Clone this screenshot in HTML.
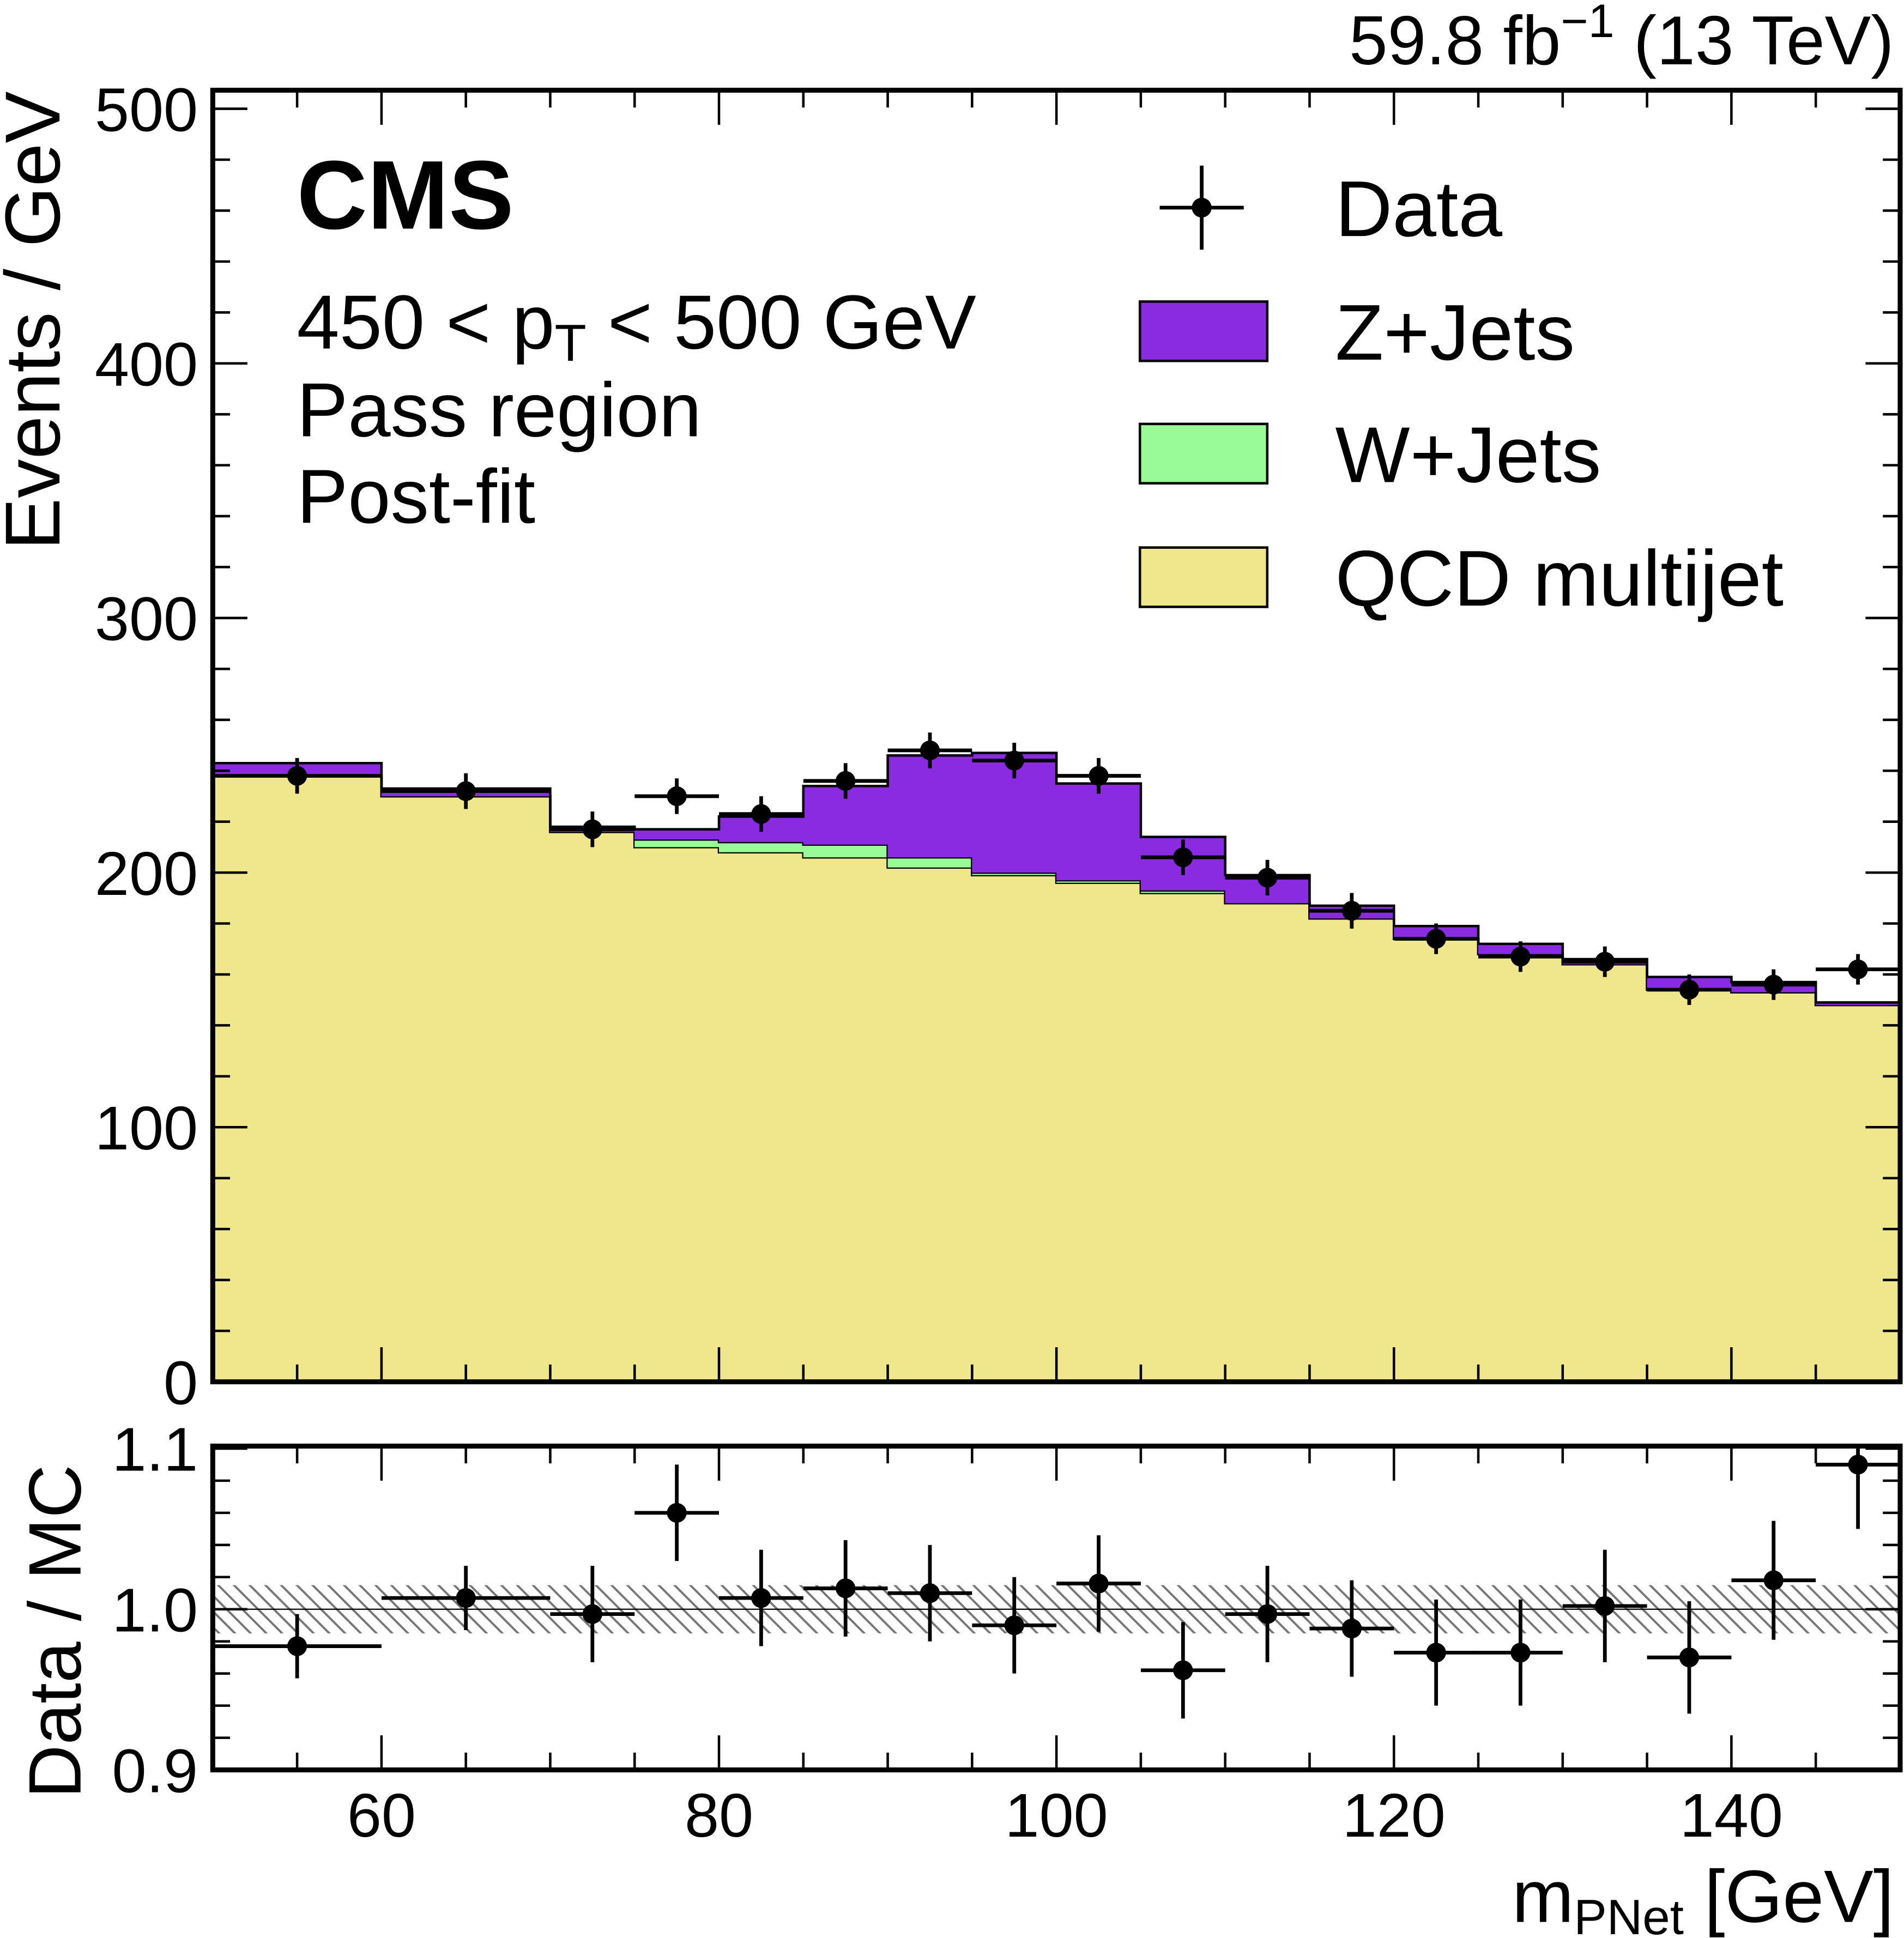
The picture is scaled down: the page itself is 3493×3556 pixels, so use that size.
<!DOCTYPE html>
<html><head><meta charset="utf-8"><style>
html,body{margin:0;padding:0;background:#fff}
svg{display:block}
text{font-family:"Liberation Sans",sans-serif;fill:#000}
</style></head><body>
<svg id="c" width="3493" height="3556" viewBox="0 0 1540 1568" xmlns="http://www.w3.org/2000/svg">
<defs>
<pattern id="hatch" patternUnits="userSpaceOnUse" width="9" height="9" patternTransform="rotate(-45)">
<line x1="0" y1="0" x2="0" y2="9" stroke="#777" stroke-width="3.5"/>
</pattern>
<clipPath id="rclip"><rect x="172" y="1170" width="1365" height="262"/></clipPath>
</defs>
<g id="layer"></g>
</svg>
<script>
const edges=[50,60,70,75,80,85,90,95,100,105,110,115,120,125,130,135,140,145,150];
const dataVals=[238,232,217,230,223,236,248,244,238,206,198,185,174,167,165,154,156,162];
const dataErr=[7,7,7,7,7,7,7,7,7,7,7,7,6,6,6,6,6,6];
const qcdVals=[238,230,216,210,208,206,202,199,196,192,188,182,174,168,164,154,153,148];
const wVals=[0,0,0,3,4,5,4,1,1,1,0,0,0,0,0,0,0,0];
const totalVals=[243,233,218,217,222,234,246,247,235,214,199,187,179,172,166,159,157,149];
const ratioVals=[0.977,1.007,0.997,1.06,1.007,1.013,1.01,0.99,1.016,0.962,0.997,0.988,0.973,0.973,1.002,0.97,1.018,1.09];
const ratioErr=[0.02,0.02,0.03,0.03,0.03,0.03,0.03,0.03,0.03,0.03,0.03,0.03,0.033,0.033,0.035,0.035,0.037,0.04];
const bandErr=[0.015,0.015,0.015,0.015,0.015,0.015,0.015,0.015,0.015,0.015,0.015,0.015,0.015,0.015,0.015,0.015,0.015,0.015];
const yTicks=[0,100,200,300,400,500];
const rTicks=[0.9,1.0,1.1];
const xTicks=[60,80,100,120,140];

const NS="http://www.w3.org/2000/svg";
const L=document.getElementById('layer');
function mk(tag,a,parent){const e=document.createElementNS(NS,tag);for(const k in a)e.setAttribute(k,a[k]);(parent||L).appendChild(e);return e;}
const X0=172,X1=1537;
const xs=v=>X0+(v-50)/100*(X1-X0);
const yTop=1118, ys=v=>yTop-v*2.06;
const rs=v=>1302-(v-1)*1300;
const PT=73,PB=1118,RT=1170,RB=1432;

function step(vals,base,fill,name){
  let d='';
  for(let i=0;i<vals.length;i++){
    const x0=xs(edges[i]),x1=xs(edges[i+1]);
    const top=base[i]+vals[i];
    d+=`M${x0},${ys(base[i])}L${x0},${ys(top)}L${x1},${ys(top)}L${x1},${ys(base[i])}Z`;
  }
  const p=mk('path',{d,fill,stroke:'none'});
  
  
  let l='';
  for(let i=0;i<vals.length;i++){
    const x0=xs(edges[i]),x1=xs(edges[i+1]),top=base[i]+vals[i];
    l+=(i==0?`M${x0},${ys(top)}`:`L${x0},${ys(top)}`)+`L${x1},${ys(top)}`;
  }
  mk('path',{d:l,fill:'none',stroke:'#000','stroke-width':2});
}
const zero=qcdVals.map(()=>0);
step(qcdVals,zero,'#f0e68c','qcd-stack');
const wBase=qcdVals.slice();
step(wVals,wBase,'#98fb98','wjets-stack');
const zBase=qcdVals.map((q,i)=>q+wVals[i]);
const zVals=totalVals.map((t,i)=>Math.max(0,t-zBase[i]));
step(zVals,zBase,'#8a2be2','zjets-stack');

function points(vals,errs,yf,name,parent){
  for(let i=0;i<vals.length;i++){
    const c=(edges[i]+edges[i+1])/2,x=xs(c),y=yf(vals[i]);
    const g=mk('g',{},parent);
    
    
    mk('line',{x1:xs(edges[i]),x2:xs(edges[i+1]),y1:y,y2:y,stroke:'#000','stroke-width':3},g);
    mk('line',{x1:x,x2:x,y1:yf(vals[i]+errs[i]),y2:yf(vals[i]-errs[i]),stroke:'#000','stroke-width':3},g);
    mk('circle',{cx:x,cy:y,r:8,fill:'#000'},g);
  }
}
points(dataVals,dataErr,ys,'data-point');

const RG=mk('g',{'clip-path':'url(#rclip)'});
for(let i=0;i<bandErr.length;i++){
  const r=mk('rect',{x:xs(edges[i]),y:rs(1+bandErr[i]),width:xs(edges[i+1])-xs(edges[i]),height:rs(1-bandErr[i])-rs(1+bandErr[i]),fill:'url(#hatch)'},RG);
  
  
}
mk('line',{x1:X0,x2:X1,y1:rs(1),y2:rs(1),stroke:'#000','stroke-width':1},RG);
points(ratioVals,ratioErr,rs,'ratio-point',RG);

mk('rect',{x:X0,y:PT,width:X1-X0,height:PB-PT,fill:'none',stroke:'#000','stroke-width':4});
mk('rect',{x:X0,y:RT,width:X1-X0,height:RB-RT,fill:'none',stroke:'#000','stroke-width':4});

for(let v=55;v<150;v+=5){
  const x=xs(v),maj=(v%20==0),len=maj?28:14;
  [[PT,1],[PB,-1],[RT,1],[RB,-1]].forEach(([y,s])=>mk('line',{x1:x,x2:x,y1:y,y2:y+s*len,stroke:'#000','stroke-width':2}));
}
xTicks.forEach(v=>{const t=mk('text',{x:xs(v),y:1486,'font-size':50,'text-anchor':'middle'});t.textContent=v;});
for(let v=0;v<=500;v+=20){
  const y=ys(v),len=v%100==0?28:14;
  mk('line',{x1:X0,x2:X0+len,y1:y,y2:y,stroke:'#000','stroke-width':2});
  mk('line',{x1:X1,x2:X1-len,y1:y,y2:y,stroke:'#000','stroke-width':2});
}
yTicks.forEach(v=>{const t=mk('text',{x:160,y:ys(v)+18,'font-size':50,'text-anchor':'end'});t.textContent=v;});
for(let k=0;k<=10;k++){
  const v=0.9+k*0.02,y=rs(v),len=(k%5==0)?28:14;
  mk('line',{x1:X0,x2:X0+len,y1:y,y2:y,stroke:'#000','stroke-width':2});
  mk('line',{x1:X1,x2:X1-len,y1:y,y2:y,stroke:'#000','stroke-width':2});
}
rTicks.forEach(v=>{const t=mk('text',{x:160,y:rs(v)+18,'font-size':50,'text-anchor':'end'});t.textContent=v.toFixed(1);});

const leg=[['Z+Jets','#8a2be2',268],['W+Jets','#98fb98',367],['QCD multijet','#f0e68c',467]];
{const g=mk('g',{});
mk('line',{x1:938,x2:1006,y1:168,y2:168,stroke:'#000','stroke-width':3},g);
mk('line',{x1:972,x2:972,y1:134,y2:202,stroke:'#000','stroke-width':3},g);
mk('circle',{cx:972,cy:168,r:8},g);
const t=mk('text',{x:1080,y:191,'font-size':64},g);t.textContent='Data';}
leg.forEach(([n,c,y])=>{const g=mk('g',{});
mk('rect',{x:922,y:y-24,width:103,height:48,fill:c,stroke:'#000','stroke-width':2},g);
const t=mk('text',{x:1080,y:y+23,'font-size':64},g);t.textContent=n;});
</script>
<svg style="position:absolute;left:0;top:0" width="3493" height="3556" viewBox="0 0 1540 1568" xmlns="http://www.w3.org/2000/svg">
<text x="240" y="185" font-size="79" font-weight="bold" style="font-family:'Liberation Sans',sans-serif">CMS</text>
<text x="240" y="282" font-size="62" style="font-family:'Liberation Sans',sans-serif">450 &lt; p<tspan font-size="42" dy="10">T</tspan><tspan dy="-10"> &lt; 500 GeV</tspan></text>
<text x="240" y="353" font-size="62" style="font-family:'Liberation Sans',sans-serif">Pass region</text>
<text x="240" y="423" font-size="62" style="font-family:'Liberation Sans',sans-serif">Post-fit</text>
<text x="1532" y="52" font-size="56" text-anchor="end" style="font-family:'Liberation Sans',sans-serif">59.8 fb<tspan font-size="38" dy="-22">−1</tspan><tspan dy="22"> (13 TeV)</tspan></text>
<text transform="translate(48,445) rotate(-90)" font-size="63" style="font-family:'Liberation Sans',sans-serif">Events / GeV</text>
<text transform="translate(65,1455) rotate(-90)" font-size="60" style="font-family:'Liberation Sans',sans-serif">Data / MC</text>
<text x="1532" y="1555" font-size="60" text-anchor="end" style="font-family:'Liberation Sans',sans-serif">m<tspan font-size="40" dy="10">PNet</tspan><tspan dy="-10"> [GeV]</tspan></text>
</svg>
</body></html>
